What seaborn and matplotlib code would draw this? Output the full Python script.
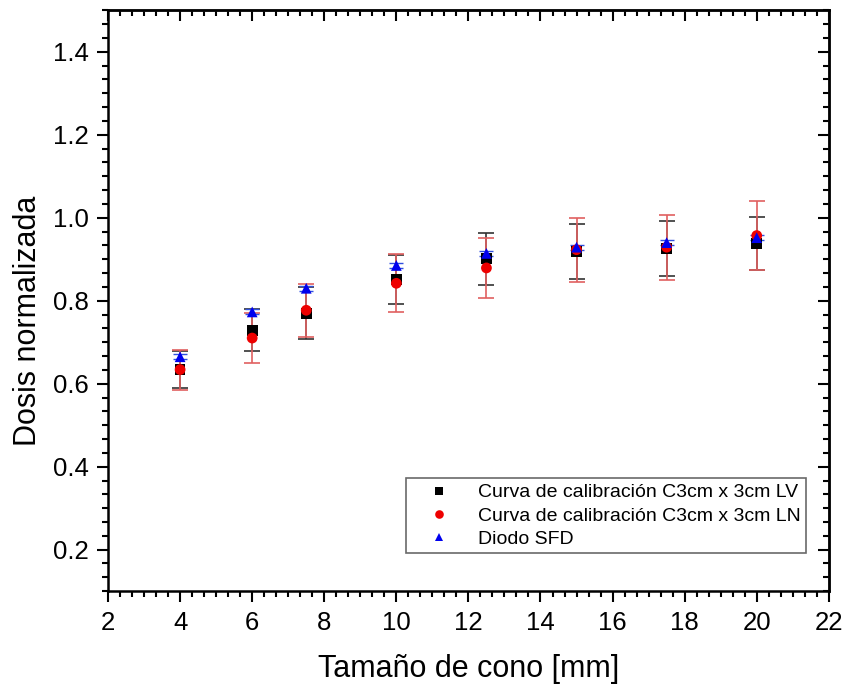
import numpy as np
import pandas as pd
import matplotlib
matplotlib.use("Agg")
import matplotlib.pyplot as plt
from matplotlib.ticker import AutoMinorLocator
import seaborn as sns

# ---- data ----
cone_mm = [4, 6, 7.5, 10, 12.5, 15, 17.5, 20]
lv_dose = [0.635, 0.729, 0.770, 0.851, 0.901, 0.919, 0.926, 0.938]
lv_err = [0.045, 0.050, 0.062, 0.060, 0.063, 0.066, 0.066, 0.064]
ln_dose = [0.634, 0.710, 0.777, 0.842, 0.879, 0.923, 0.929, 0.957]
ln_err = [0.048, 0.060, 0.064, 0.070, 0.072, 0.077, 0.078, 0.083]
sfd_dose = [0.665, 0.773, 0.830, 0.885, 0.914, 0.929, 0.940, 0.952]
sfd_err = [0.006, 0.006, 0.006, 0.006, 0.006, 0.006, 0.006, 0.006]

lab_lv = "Curva de calibración C3cm x 3cm LV"
lab_ln = "Curva de calibración C3cm x 3cm LN"
lab_sfd = "Diodo SFD"

x_ticks = [2, 4, 6, 8, 10, 12, 14, 16, 18, 20, 22]
y_ticks = [0.2, 0.4, 0.6, 0.8, 1.0, 1.2, 1.4]

df = pd.DataFrame({
    "cono": cone_mm * 3,
    "dosis": lv_dose + ln_dose + sfd_dose,
    "serie": [lab_lv] * len(cone_mm) + [lab_ln] * len(cone_mm) + [lab_sfd] * len(cone_mm),
})

sns.set_theme(style="white")
plt.rcParams["font.family"] = ["Liberation Sans", "DejaVu Sans"]
plt.rcParams["text.color"] = "black"
plt.rcParams["axes.labelcolor"] = "black"
plt.rcParams["xtick.color"] = "black"
plt.rcParams["ytick.color"] = "black"

fig = plt.figure(figsize=(8.44, 6.85), dpi=100)
ax = fig.add_axes([0.128, 0.137, 0.854, 0.848])

ax.errorbar(cone_mm, lv_dose, yerr=lv_err, fmt="none", ecolor="#333333",
            elinewidth=1.2, capsize=6, capthick=1.2, zorder=2)
ax.errorbar(cone_mm, ln_dose, yerr=ln_err, fmt="none", ecolor="#E06060",
            elinewidth=1.2, capsize=6, capthick=1.2, zorder=3)
ax.errorbar(cone_mm, sfd_dose, yerr=sfd_err, fmt="none", ecolor="#3050E0",
            elinewidth=1.0, capsize=5, capthick=1.0, zorder=3)

sns.scatterplot(data=df, x="cono", y="dosis", hue="serie", style="serie",
                palette={lab_lv: "black", lab_ln: "#EE0000", lab_sfd: "#0000EE"},
                markers={lab_lv: "s", lab_ln: "o", lab_sfd: "^"},
                s=60, edgecolor="none", linewidth=0, ax=ax, zorder=5)

ax.set_xlim(2, 22)
ax.set_ylim(0.1, 1.5)
ax.set_xticks(x_ticks)
ax.set_yticks(y_ticks)
ax.set_xticklabels([str(t) for t in x_ticks], fontsize=18.5)
ax.set_yticklabels([f"{t:.1f}" for t in y_ticks], fontsize=18.5)
ax.xaxis.set_minor_locator(AutoMinorLocator(6))
ax.yaxis.set_minor_locator(AutoMinorLocator(6))
ax.tick_params(which="major", direction="out", length=8, width=1.5, color="black",
               labelcolor="black", bottom=True, left=True, top=False, right=False, pad=6)
ax.tick_params(which="minor", direction="out", length=4, width=1.5, color="black",
               bottom=True, left=True, top=False, right=False)

secx = ax.secondary_xaxis("top")
secx.set_xticks(x_ticks)
secx.xaxis.set_minor_locator(AutoMinorLocator(6))
secx.tick_params(which="major", direction="in", length=8, width=1.5, labeltop=False)
secx.tick_params(which="minor", direction="in", length=4, width=1.5)
secx.spines["top"].set_linewidth(1.8)
secy = ax.secondary_yaxis("right")
secy.set_yticks(y_ticks)
secy.yaxis.set_minor_locator(AutoMinorLocator(6))
secy.tick_params(which="major", direction="in", length=8, width=1.5, labelright=False)
secy.tick_params(which="minor", direction="in", length=4, width=1.5)
secy.spines["right"].set_linewidth(1.8)

for sp in ax.spines.values():
    sp.set_visible(True)
    sp.set_color("black")
    sp.set_linewidth(1.8)

ax.set_xlabel("Tamaño de cono [mm]", fontsize=22, labelpad=14, color="black")
ax.set_ylabel("Dosis normalizada", fontsize=22, color="black", va="center")
ax.yaxis.set_label_coords(-0.111, 0.466)

handles, labels = ax.get_legend_handles_labels()
leg = ax.legend(handles, labels, loc="lower right", bbox_to_anchor=(0.9685, 0.065),
                fontsize=14, frameon=True, fancybox=False, edgecolor="#444444",
                handletextpad=0.6, borderpad=0.3, labelspacing=0.28, markerscale=0.8,
                handlelength=2.8, borderaxespad=0)
leg.get_frame().set_linewidth(1.2)
for t in leg.get_texts():
    t.set_color("black")

fig.savefig("out.png", dpi=100)
